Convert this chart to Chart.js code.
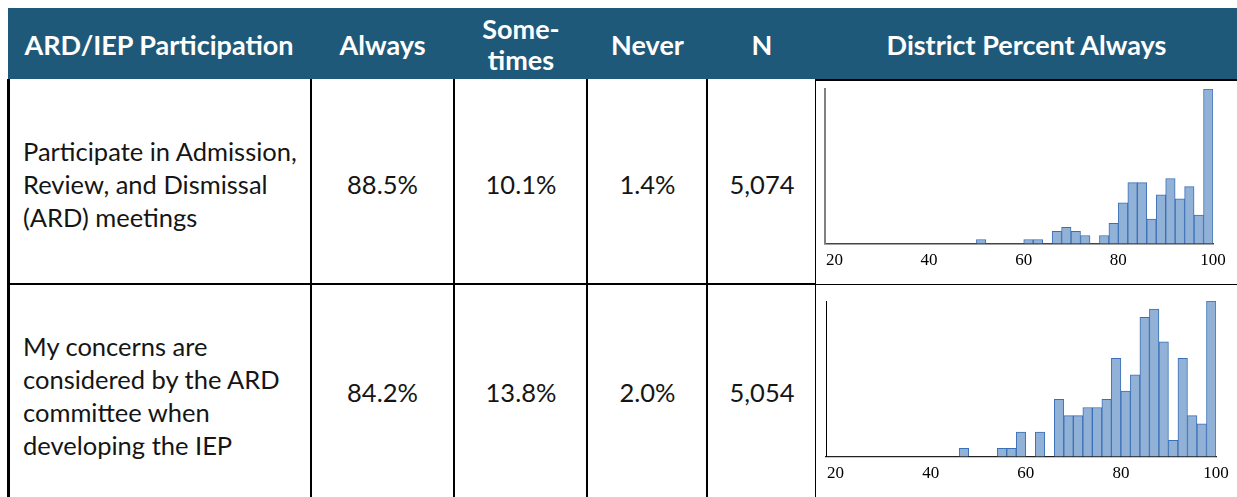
<!DOCTYPE html>
<html><head><meta charset="utf-8">
<script src="https://cdn.jsdelivr.net/npm/chart.js@4.4.1/dist/chart.umd.min.js"></script>
<style>
html,body{margin:0;padding:0;background:#fff;width:1237px;height:497px;overflow:hidden;}
body{position:relative;font-family:Lato,"Open Sans",sans-serif;color:#151515;}
.hdr{position:absolute;left:8px;top:8px;width:1229px;height:71px;background:#1F5979;}
.ht{position:absolute;color:#fff;font-weight:bold;font-size:27px;text-align:center;line-height:31px;white-space:pre-line;}
.ln{position:absolute;background:#000;}
.lab{position:absolute;font-size:25.5px;line-height:33px;white-space:pre-line;}
.val{position:absolute;font-size:25.5px;line-height:33px;text-align:center;}
.cw{position:absolute;}
</style></head>
<body>
<div class="hdr"></div>
<script>
// ---------------- data ----------------
const columns = ["ARD/IEP Participation", "Always", "Some-\ntimes", "Never", "N", "District Percent Always"];
const items = [
  "Participate in Admission,\nReview, and Dismissal\n(ARD) meetings",
  "My concerns are\nconsidered by the ARD\ncommittee when\ndeveloping the IEP"
];
const always    = [88.5, 84.2];
const sometimes = [10.1, 13.8];
const never     = [1.4, 2.0];
const counts    = [5074, 5054];

// histogram bins (bin start, width 2) and number of districts per bin
const binStarts1 = [50, 60, 62, 66, 68, 70, 72, 76, 78, 80, 82, 84, 86, 88, 90, 92, 94, 96, 98];
const binCounts1 = [1, 1, 1, 3, 4, 3, 2, 2, 5, 10, 15, 15, 6, 12, 16, 11, 14, 7, 38];
const binStarts2 = [46, 54, 56, 58, 62, 66, 68, 70, 72, 74, 76, 78, 80, 82, 84, 86, 88, 90, 92, 94, 96, 98];
const binCounts2 = [1, 1, 1, 3, 3, 7, 5, 5, 6, 6, 7, 12, 8, 10, 17, 18, 14, 2, 12, 5, 4, 19];
const xTicks = [20, 40, 60, 80, 100];

// ---------------- layout ----------------
const colEdges = [8, 310, 455, 587, 708, 816, 1237];
function el(cls, css, text) {
  const d = document.createElement('div');
  d.className = cls;
  Object.assign(d.style, css);
  if (text !== undefined) d.textContent = text;
  document.body.appendChild(d);
  return d;
}
// header texts
columns.forEach((c, i) => {
  const lines = c.split('\n').length;
  el('ht', {left: colEdges[i] + 'px', width: (colEdges[i+1] - colEdges[i]) + 'px',
            top: (44 - lines * 15.5) + 'px'}, c);
});
// rows
const labelCenters = [184, 396];
const valueCenters = [184, 392];
items.forEach((t, r) => {
  const lines = t.split('\n').length;
  el('lab', {left: '23px', top: (labelCenters[r] - lines * 16.5) + 'px'}, t);
  const vals = [always[r].toFixed(1) + '%', sometimes[r].toFixed(1) + '%', never[r].toFixed(1) + '%',
                counts[r].toLocaleString('en-US')];
  vals.forEach((v, j) => {
    el('val', {left: colEdges[j+1] + 'px', width: (colEdges[j+2] - colEdges[j+1]) + 'px',
               top: (valueCenters[r] - 16.5) + 'px'}, v);
  });
});
// grid lines
el('ln', {left: '7px', top: '79px', width: '3px', height: '418px'});
[310, 453, 586, 706].forEach(x => el('ln', {left: x + 'px', top: '79px', width: '2px', height: '418px'}));
el('ln', {left: '815px', top: '79px', width: '1px', height: '418px'});
el('ln', {left: '7px', top: '283px', width: '808px', height: '2px'});
el('ln', {left: '815px', top: '284px', width: '422px', height: '1px'});
el('ln', {left: '815px', top: '79px', width: '422px', height: '2px'});

// ---------------- charts ----------------
function makeHist(box, starts, vals, pad, yBorder, xBorder) {
  const wrap = el('cw', {left: box.x + 'px', top: box.y + 'px', width: box.w + 'px', height: box.h + 'px'});
  const cv = document.createElement('canvas');
  cv.width = box.w; cv.height = box.h;
  cv.style.width = box.w + 'px'; cv.style.height = box.h + 'px';
  wrap.appendChild(cv);
  new Chart(cv, {
    type: 'bar',
    data: {datasets: [{
      data: starts.map((s, i) => ({x: s + 1, y: vals[i]})),
      backgroundColor: '#92B1D7',
      borderColor: '#3A70B6',
      borderWidth: 1,
      barPercentage: 1,
      categoryPercentage: 1
    }]},
    options: {
      responsive: false, animation: false, devicePixelRatio: 1,
      layout: {padding: pad},
      plugins: {legend: {display: false}, tooltip: {enabled: false}},
      scales: {
        x: {type: 'linear', min: 18, max: 100, offset: false,
            grid: {display: false, drawTicks: false},
            border: {color: xBorder.color, width: xBorder.width},
            ticks: {font: {family: '"Liberation Serif", "DejaVu Serif", serif', size: 17}, color: '#000', padding: 7,
                    maxRotation: 0, autoSkip: false},
            afterBuildTicks: s => { s.ticks = xTicks.map(v => ({value: v})); }},
        y: {min: 0, max: Math.max(...vals),
            grid: {display: false, drawTicks: false},
            border: {color: yBorder.color, width: yBorder.width},
            ticks: {display: false}}
      }
    }
  });
}
makeHist({x: 816, y: 81, w: 421, h: 202}, binStarts1, binCounts1,
         {left: 9, right: 24, top: 8, bottom: 5}, {color: '#808080', width: 2}, {color: '#444', width: 1.5});
makeHist({x: 816, y: 286, w: 421, h: 211}, binStarts2, binCounts2,
         {left: 10, right: 21, top: 15, bottom: 6}, {color: '#000', width: 1}, {color: '#222', width: 1.2});
</script>
</body></html>
